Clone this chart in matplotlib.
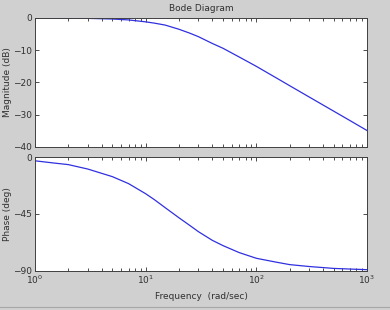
import matplotlib
matplotlib.use('Agg')
from matplotlib import pyplot as plt
from matplotlib.lines import Line2D

# данные
freq = [1, 1.5, 2, 3, 5, 7, 10, 12, 15, 20, 25, 30, 40, 50, 70, 100, 150, 200,
        300, 500, 700, 1000]
mag_db = [-0.01, -0.03, -0.05, -0.12, -0.32, -0.6, -1.2, -1.6, -2.2, -3.5, -4.7,
          -5.8, -7.9, -9.4, -12.1, -15.0, -18.5, -21.0, -24.5, -28.9, -31.8, -34.9]
phase_deg = [-3, -4.8, -6, -9.5, -15.5, -21, -29, -33.7, -40, -48, -54, -59,
             -65.8, -70, -75.5, -80, -83, -85, -86.5, -88, -88.5, -89]
mag_ticks = [0, -10, -20, -30, -40]
phase_ticks = [0, -45, -90]

bg = '#d0d0d0'
txt = '#303030'
fs = 6.5

fig = plt.figure(figsize=(3.9, 3.1), dpi=100, facecolor=bg)
ax1 = fig.add_axes([0.0897, 0.526, 0.8513, 0.416])
ax2 = fig.add_axes([0.0897, 0.126, 0.8513, 0.3675])

for ax in (ax1, ax2):
    ax.set_xscale('log')
    ax.set_xlim(1, 1000)
    ax.tick_params(which='both', direction='in', top=True, right=True,
                   labelsize=fs, colors=txt, width=0.6, pad=2)
    ax.tick_params(which='major', length=3)
    ax.tick_params(which='minor', length=2)
    for s in ax.spines.values():
        s.set_linewidth(0.7)
        s.set_color('#404040')

# амплитуда
ax1.plot(freq, mag_db, color='#3030e0', lw=0.9)
ax1.set_ylim(-40, 0)
ax1.set_yticks(mag_ticks)
ax1.tick_params(which='both', labelbottom=False)
ax1.set_ylabel('Magnitude (dB)', fontsize=fs, color=txt)
ax1.yaxis.set_label_coords(-0.07, 0.5)
ax1.set_title('Bode Diagram', fontsize=fs, color=txt, pad=5)

# фаза
ax2.plot(freq, phase_deg, color='#3030e0', lw=0.9)
ax2.set_ylim(-90, 0)
ax2.set_yticks(phase_ticks)
ax2.set_ylabel('Phase (deg)', fontsize=fs, color=txt)
ax2.yaxis.set_label_coords(-0.07, 0.5)
ax2.set_xlabel('Frequency  (rad/sec)', fontsize=fs, color=txt, labelpad=4)

fig.add_artist(Line2D([0, 1], [0.01, 0.01], color='#a8a8a8', lw=0.8))

plt.savefig('out.png', facecolor=bg)
